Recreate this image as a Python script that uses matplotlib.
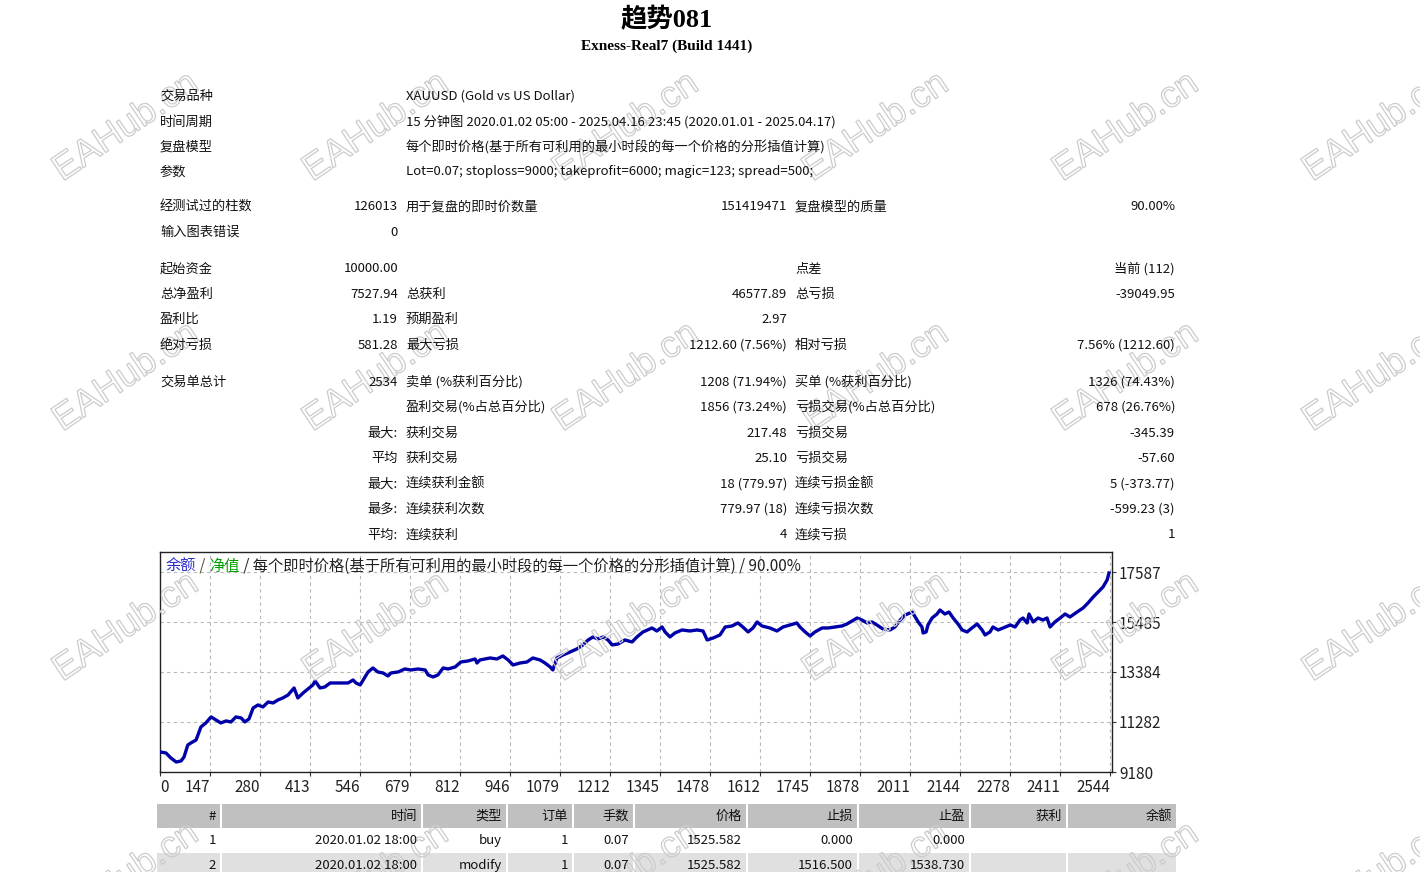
import numpy as np
import matplotlib
matplotlib.use("Agg")
import matplotlib.pyplot as plt
from matplotlib.patches import Rectangle, PathPatch
from matplotlib.textpath import TextPath
from matplotlib.font_manager import FontProperties
import matplotlib.transforms as mtransforms

CJK = ['Noto Sans CJK SC', 'DejaVu Sans']
plt.rcParams['font.family'] = CJK

# ---- report data ----
title = "趋势081"
subtitle = "Exness-Real7 (Build 1441)"

info_labels = ["交易品种", "时间周期", "复盘模型", "参数"]
info_values = ["XAUUSD (Gold vs US Dollar)",
               "15 分钟图 2020.01.02 05:00 - 2025.04.16 23:45 (2020.01.01 - 2025.04.17)",
               "每个即时价格(基于所有可利用的最小时段的每一个价格的分形插值计算)",
               "Lot=0.07; stoploss=9000; takeprofit=6000; magic=123; spread=500;"]

stat_rows = [
    ["经测试过的柱数", "126013", "用于复盘的即时价数量", "151419471", "复盘模型的质量", "90.00%"],
    ["输入图表错误", "0", "", "", "", ""],
    ["起始资金", "10000.00", "", "", "点差", "当前 (112)"],
    ["总净盈利", "7527.94", "总获利", "46577.89", "总亏损", "-39049.95"],
    ["盈利比", "1.19", "预期盈利", "2.97", "", ""],
    ["绝对亏损", "581.28", "最大亏损", "1212.60 (7.56%)", "相对亏损", "7.56% (1212.60)"],
    ["交易单总计", "2534", "卖单 (%获利百分比)", "1208 (71.94%)", "买单 (%获利百分比)", "1326 (74.43%)"],
    ["", "", "盈利交易(%占总百分比)", "1856 (73.24%)", "亏损交易(%占总百分比)", "678 (26.76%)"],
    ["", "最大:", "获利交易", "217.48", "亏损交易", "-345.39"],
    ["", "平均", "获利交易", "25.10", "亏损交易", "-57.60"],
    ["", "最大:", "连续获利金额", "18 (779.97)", "连续亏损金额", "5 (-373.77)"],
    ["", "最多:", "连续获利次数", "779.97 (18)", "连续亏损次数", "-599.23 (3)"],
    ["", "平均:", "连续获利", "4", "连续亏损", "1"],
]

# balance curve (trade number, balance)
trades = [0, 16, 30, 43, 57, 70, 78, 88, 96, 110, 123, 136, 150, 163, 176, 190, 203, 216, 230, 240,
          251, 262, 275, 288, 302, 315, 328, 341, 355, 371, 381, 395, 408, 421, 427, 440, 453, 467, 480, 496,
          515, 528, 536, 547, 555, 568, 581, 594, 608, 621, 629, 648, 666, 682, 701, 720, 728, 741, 754, 768,
          781, 800, 815, 834, 853, 858, 866, 893, 911, 927, 941, 954, 973, 991, 1007, 1026, 1039, 1053, 1060, 1071,
          1087, 1106, 1124, 1140, 1154, 1167, 1180, 1194, 1207, 1218, 1234, 1252, 1271, 1284, 1300, 1324, 1337, 1351, 1359, 1372,
          1385, 1404, 1425, 1444, 1460, 1471, 1487, 1505, 1519, 1537, 1553, 1566, 1580, 1593, 1604, 1617, 1638, 1657, 1673, 1692,
          1710, 1718, 1732, 1745, 1758, 1777, 1793, 1811, 1830, 1843, 1857, 1870, 1883, 1897, 1910, 1923, 1939, 1958, 1971, 1985,
          1998, 2017, 2025, 2033, 2043, 2046, 2054, 2059, 2070, 2083, 2091, 2104, 2115, 2126, 2139, 2150, 2163, 2176, 2190, 2203,
          2211, 2224, 2232, 2246, 2259, 2278, 2291, 2304, 2312, 2323, 2328, 2339, 2352, 2365, 2376, 2384, 2397, 2411, 2424, 2437,
          2456, 2472, 2485, 2499, 2512, 2525, 2536, 2541]
balance = [10000, 10020, 9979, 9769, 9601, 9643, 9811, 10315, 10399, 10525, 11074, 11242, 11494, 11368, 11242, 11326, 11284, 11494, 11452, 11284,
           11410, 11872, 11998, 11914, 12124, 12082, 12208, 12292, 12418, 12712, 12292, 12502, 12670, 12838, 13006, 12712, 12754, 12922, 12922, 12922,
           12922, 13048, 12922, 12838, 13048, 13385, 13553, 13385, 13343, 13217, 13343, 13385, 13511, 13469, 13511, 13469, 13259, 13175, 13259, 13553,
           13511, 13595, 13805, 13847, 13931, 13763, 13889, 13973, 13931, 14057, 13889, 13679, 13763, 13805, 13973, 13889, 13763, 13595, 13469, 13973,
           14099, 14226, 14352, 14520, 14730, 14856, 14772, 14856, 14730, 14520, 14562, 14730, 14646, 14856, 15066, 15234, 15108, 15276, 15066, 14856,
           15024, 15150, 15108, 15150, 15108, 14730, 14814, 14940, 15276, 15318, 15444, 15276, 15066, 15234, 15486, 15318, 15234, 15108, 15276, 15360,
           15444, 15276, 15066, 14898, 15066, 15234, 15234, 15276, 15318, 15402, 15528, 15654, 15570, 15444, 15486, 15360, 15192, 15150, 15276, 15570,
           15780, 15906, 15696, 15486, 15276, 15024, 15066, 15360, 15654, 15822, 15990, 15822, 15906, 15654, 15402, 15150, 15066, 15234, 15402, 15150,
           14940, 15066, 15276, 15150, 15234, 15360, 15276, 15570, 15654, 15444, 15822, 15486, 15654, 15570, 15654, 15276, 15486, 15654, 15822, 15696,
           15906, 16074, 16284, 16537, 16747, 16957, 17251, 17545]

x_tick_labels = ["0", "147", "280", "413", "546", "679", "812", "946", "1079", "1212", "1345",
                 "1478", "1612", "1745", "1878", "2011", "2144", "2278", "2411", "2544"]
y_ticks = [9180, 11282, 13384, 15485, 17587]

legend_parts = [("余额", "#2b2bd0"), (" / ", "#5a4a40"), ("净值", "#00a000"),
                (" / 每个即时价格(基于所有可利用的最小时段的每一个价格的分形插值计算) / 90.00%", "#202020")]

deal_header = ["#", "时间", "类型", "订单", "手数", "价格", "止损", "止盈", "获利", "余额"]
deal_rows = [
    ["1", "2020.01.02 18:00", "buy", "1", "0.07", "1525.582", "0.000", "0.000", "", ""],
    ["2", "2020.01.02 18:00", "modify", "1", "0.07", "1525.582", "1516.500", "1538.730", "", ""],
]

# ---- figure ----
W, H = 1420, 872
fig = plt.figure(figsize=(W / 100, H / 100), dpi=100)


def fx(x):
    return x / W


def fy(y):
    return 1 - y / H


def put(x, y, s, ha='left', size=9.5, **kw):
    if s:
        fig.text(fx(x), fy(y), s, ha=ha, va='center', fontsize=size, color='#111111', zorder=5, **kw)


fig.text(fx(667), fy(20), title, ha='center', va='center', fontsize=19, weight='bold',
         family=['Liberation Serif', 'Noto Sans CJK SC'])
fig.text(fx(667), fy(46), subtitle, ha='center', va='center', fontsize=11, weight='bold',
         family=['Liberation Serif', 'DejaVu Serif'])

info_y = [96, 122, 147, 172]
for y, lab, val in zip(info_y, info_labels, info_values):
    put(160, y, lab)
    put(406, y, val)

stat_y = [207, 232, 269, 294, 319, 345, 382, 407, 433, 458, 484, 509, 535]
for y, row in zip(stat_y, stat_rows):
    put(160, y, row[0])
    put(398, y, row[1], ha='right')
    put(406, y, row[2])
    put(787, y, row[3], ha='right')
    put(795, y, row[4])
    put(1175, y, row[5], ha='right')

# ---- balance chart ----
ax = fig.add_axes([fx(160), fy(772), 952 / W, 220 / H])
ax.plot(trades, balance, color='#0000a8', lw=2.4, zorder=3)
ax.set_xlim(14, 2549)
ax.set_ylim(9180, 18428)
xt = [14] + [int(s) for s in x_tick_labels[1:]]
ax.set_xticks(xt)
ax.set_xticklabels(x_tick_labels, fontsize=11, color='#222222')
for i, lbl in enumerate(ax.get_xticklabels()):
    lbl.set_ha('left' if i == 0 else 'right')
ax.set_yticks(y_ticks)
ax.set_yticklabels([str(v) for v in y_ticks], fontsize=11, color='#222222')
ax.yaxis.tick_right()
ax.tick_params(axis='both', direction='out', length=3, width=0.8, color='#333333', pad=2)
ax.grid(True, ls=(0, (3, 3)), color='#b8b8b8', lw=0.8)
for sp in ax.spines.values():
    sp.set_color('#222222')
    sp.set_linewidth(1.0)

# legend text inside the chart
fig.canvas.draw()
renderer = fig.canvas.get_renderer()
xpos = 166
for txt, col in legend_parts:
    t = fig.text(fx(xpos), fy(566), txt, ha='left', va='center', fontsize=11, color=col, zorder=5)
    xpos += t.get_window_extent(renderer).width

# ---- deals table ----
bounds = [157, 222, 423, 508, 574, 635, 748, 859, 971, 1068, 1178]


def rect(x0, y0, x1, y1, c):
    fig.add_artist(Rectangle((fx(x0), fy(y1)), (x1 - x0) / W, (y1 - y0) / H,
                             transform=fig.transFigure, color=c, lw=0, zorder=0.5))


row_tops = [804, 829, 853]
row_bots = [828, 852, 878]
row_cols = ['#c0c0c0', None, '#e0e0e0']
for j, cells in enumerate([deal_header] + deal_rows):
    if row_cols[j]:
        for i in range(len(bounds) - 1):
            rect(bounds[i], row_tops[j], bounds[i + 1] - 2, row_bots[j], row_cols[j])
    yc = (row_tops[j] + row_bots[j]) / 2 if j < 2 else 865
    for i, s in enumerate(cells):
        put(bounds[i + 1] - 6, yc, s, ha='right')

# ---- watermark (over the chart, under the text) ----
wm_font = FontProperties(family='Liberation Sans')
tp = TextPath((0, 0), "EAHub.cn", size=37, prop=wm_font)
v = tp.vertices
cx, cy = (v[:, 0].min() + v[:, 0].max()) / 2, (v[:, 1].min() + v[:, 1].max()) / 2
for gx in [123, 373, 623, 873, 1123, 1373]:
    for gy in [125, 375, 625, 875]:
        tr = mtransforms.Affine2D().translate(-cx, -cy).rotate_deg(34).translate(gx, H - gy)
        fig.add_artist(PathPatch(tp, transform=tr, facecolor='none', edgecolor='#cccccc',
                                 lw=0.9, zorder=1))

fig.savefig("out.png", dpi=100, facecolor='white')
